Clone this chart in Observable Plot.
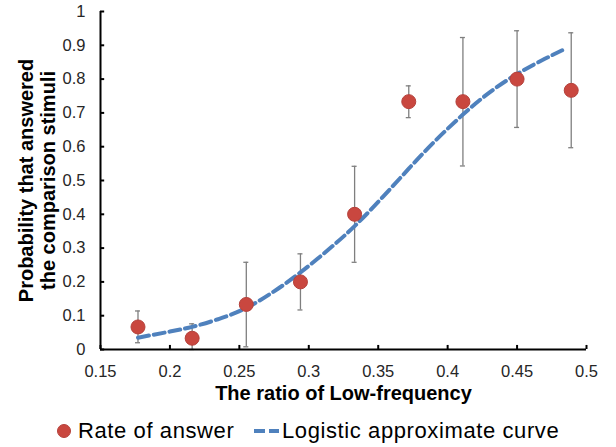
<!DOCTYPE html>
<html>
<head>
<meta charset="utf-8">
<script src="https://cdn.jsdelivr.net/npm/d3@7"></script>
<script src="https://cdn.jsdelivr.net/npm/@observablehq/plot@0.6"></script>
<style>
  html, body { margin: 0; padding: 0; background: #fff; }
  body { width: 616px; height: 447px; overflow: hidden; font-family: "Liberation Sans", Arial, sans-serif; }
  svg { display: block; }
</style>
</head>
<body>
<div id="chart"></div>
<script>
// ---- data ----
const ratio   = [0.177, 0.216, 0.255, 0.294, 0.333, 0.372, 0.411, 0.450, 0.489];
const rate    = [0.0667, 0.0333, 0.1333, 0.2000, 0.4000, 0.7333, 0.7333, 0.8000, 0.7667];
const errLow  = [0.020, 0.000, 0.008, 0.117, 0.258, 0.686, 0.543, 0.657, 0.597];
const errHigh = [0.114, 0.076, 0.258, 0.283, 0.542, 0.780, 0.923, 0.943, 0.937];

const curveX = [0.177, 0.200, 0.216, 0.235, 0.255, 0.275, 0.294, 0.314, 0.333, 0.353, 0.372, 0.390, 0.411, 0.430, 0.450, 0.470, 0.485];
const curveY = [0.035, 0.053, 0.067, 0.090, 0.123, 0.172, 0.228, 0.295, 0.365, 0.450, 0.535, 0.613, 0.695, 0.760, 0.815, 0.860, 0.890];

const xTicks = [0.15, 0.2, 0.25, 0.3, 0.35, 0.4, 0.45, 0.5];
const yTicks = [0, 0.1, 0.2, 0.3, 0.4, 0.5, 0.6, 0.7, 0.8, 0.9, 1];

const xLabel = "The ratio of Low-frequency";
const yLabel = ["Probability that answered", "the comparison stimuli"];
const legendLabels = ["Rate of answer", "Logistic approximate curve"];

// ---- build tables ----
const points = ratio.map((x, i) => ({x, y: rate[i], lo: errLow[i], hi: errHigh[i]}));
const curve = curveX.map((x, i) => ({x, y: curveY[i]}));

const red = "#c9473f";
const blue = "#4f81bd";
const gray = "#7f7f7f";

const plot = Plot.plot({
  width: 616,
  height: 405,
  marginLeft: 100,
  marginRight: 30,
  marginTop: 11,
  marginBottom: 56,
  style: {fontFamily: "Liberation Sans, Arial, sans-serif", fontSize: "16.5px", color: "#262626", background: "#fff"},
  x: {domain: [0.15, 0.5]},
  y: {domain: [0, 1]},
  marks: [
    Plot.axisX(xTicks, {tickSize: 0, tickPadding: 16, tickFormat: d => String(d), label: null, fontSize: 16.5}),
    Plot.axisY(yTicks, {tickSize: 0, tickPadding: 15, tickFormat: d => String(d), label: null, fontSize: 16.5}),
    // error bars
    Plot.ruleX(points, {x: "x", y1: "lo", y2: "hi", stroke: gray, strokeWidth: 1.3}),
    Plot.ruleY(points, {y: "lo", x1: "x", x2: "x", insetLeft: -2.5, insetRight: -2.5, stroke: gray, strokeWidth: 1.3}),
    Plot.ruleY(points, {y: "hi", x1: "x", x2: "x", insetLeft: -2.5, insetRight: -2.5, stroke: gray, strokeWidth: 1.3}),
    // axes lines and inward ticks
    Plot.ruleX(xTicks, {x: d => d, y1: 0, y2: 0.012, stroke: "#000", strokeWidth: 2}),
    Plot.ruleY(yTicks, {y: d => d, x1: 0.15, x2: 0.153, stroke: "#000", strokeWidth: 2}),
    Plot.ruleY([0], {stroke: "#000", strokeWidth: 2}),
    Plot.ruleX([0.15], {stroke: "#000", strokeWidth: 2}),
    // logistic curve
    Plot.line(curve, {x: "x", y: "y", stroke: blue, strokeWidth: 4, strokeDasharray: "11,5", curve: "natural"}),
    // points
    Plot.dot(points, {x: "x", y: "y", r: 7, fill: red, stroke: "#b5413b", strokeWidth: 1}),
    // axis titles
    Plot.text([xLabel], {text: d => d, frameAnchor: "bottom", dy: 44, lineAnchor: "middle", textAnchor: "middle", fontWeight: "bold", fontSize: 20, fill: "#000"}),
    Plot.text([yLabel.join("\n")], {text: d => d, frameAnchor: "left", rotate: -90, dx: -63.5, lineAnchor: "middle", textAnchor: "middle", lineHeight: 1.1, fontWeight: "bold", fontSize: 20, fill: "#000"})
  ]
});
document.getElementById("chart").appendChild(plot);

// ---- legend below the chart ----
const leg = d3.select("#chart").append("svg")
  .attr("width", 616).attr("height", 42)
  .style("font-family", "Liberation Sans, Arial, sans-serif");
leg.append("circle").attr("cx", 64).attr("cy", 26).attr("r", 6.5).attr("fill", red).attr("stroke", "#b5413b");
leg.append("text").attr("x", 78).attr("y", 33).attr("font-size", 22).attr("letter-spacing", 0.6).attr("fill", "#000").text(legendLabels[0]);
leg.append("line").attr("x1", 254).attr("x2", 279).attr("y1", 26).attr("y2", 26)
  .attr("stroke", blue).attr("stroke-width", 4).attr("stroke-dasharray", "11,4");
leg.append("text").attr("x", 282).attr("y", 33).attr("font-size", 22).attr("letter-spacing", 0.6).attr("fill", "#000").text(legendLabels[1]);
</script>
</body>
</html>
